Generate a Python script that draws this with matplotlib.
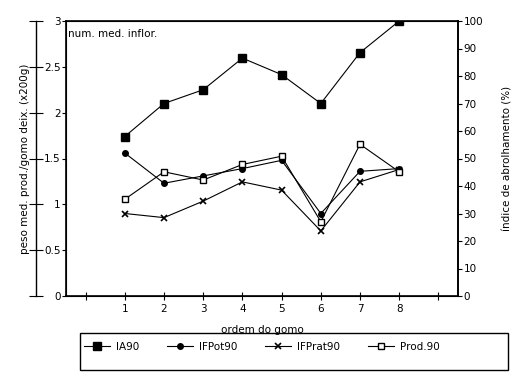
import matplotlib.pyplot as plt
from matplotlib.patches import Rectangle

# gomo order (category positions 1..8); 0 and 9 are blank ticks
ordem = [1, 2, 3, 4, 5, 6, 7, 8]
xticks = list(range(0, 10))
xticklabels = [''] + [str(o) for o in ordem] + ['']

# right axis (%)
ia90 = [58, 70, 75, 86.5, 80.5, 70, 88.5, 100]
# left axis (x200g)
ifpot90 = [1.56, 1.23, 1.31, 1.39, 1.48, 0.90, 1.36, 1.39]
ifprat90 = [0.90, 0.855, 1.035, 1.245, 1.155, 0.71, 1.245, 1.38]
prod90 = [1.055, 1.355, 1.265, 1.435, 1.525, 0.81, 1.655, 1.355]

left_ticks = [0, 0.5, 1, 1.5, 2, 2.5, 3]
left_ticklabels = ['0', '0.5', '1', '1.5', '2', '2.5', '3']
right_ticks = list(range(0, 101, 10))

plt.rcParams['font.family'] = ['DejaVu Sans']
fs = 7.5

fig = plt.figure(figsize=(5.13, 3.85), dpi=100)
pos = [66 / 513, 1 - 296 / 385, (458 - 66) / 513, (296 - 21) / 385]
ax = fig.add_axes(pos)
ax2 = ax.twinx()

lw = 0.8
h1, = ax2.plot(ordem, ia90, '-s', color='black', lw=lw, ms=5.5, label='IA90')
h2, = ax.plot(ordem, ifpot90, '-o', color='black', lw=lw, ms=4, label='IFPot90')
h3, = ax.plot(ordem, ifprat90, '-x', color='black', lw=lw, ms=5, mew=1.2, label='IFPrat90')
h4, = ax.plot(ordem, prod90, '-s', color='black', lw=lw, ms=5, mfc='white', label='Prod.90')

ax.set_xlim(-0.5, 9.5)
ax.set_ylim(0, 3)
ax2.set_ylim(0, 100)
ax.set_xticks(xticks)
ax.set_xticklabels(xticklabels, fontsize=fs)
ax.set_yticks(left_ticks)
ax.set_yticklabels(left_ticklabels, fontsize=fs)
ax2.set_yticks(right_ticks)
ax2.set_yticklabels([str(v) for v in right_ticks], fontsize=fs)
ax.tick_params(axis='x', direction='inout', length=6, width=0.8, pad=3)
ax.tick_params(axis='y', direction='out', length=3, width=0.8, pad=1)
ax2.tick_params(axis='y', direction='out', length=3, width=0.8, pad=1)
for sp in ax.spines.values():
    sp.set_linewidth(1.2)
ax2.spines['right'].set_linewidth(1.2)

ax.set_xlabel('ordem do gomo', fontsize=fs, labelpad=8)
ax2.set_ylabel('índice de abrolhamento (%)', fontsize=fs, labelpad=14)
ax.text(0.005, 0.97, 'num. med. inflor.', transform=ax.transAxes,
        fontsize=fs, va='top', ha='left')

# outer left axis line with crossing ticks
axo = fig.add_axes(pos, sharey=ax)
axo.patch.set_visible(False)
for k in ['top', 'right', 'bottom']:
    axo.spines[k].set_visible(False)
axo.spines['left'].set_position(('outward', 21.6))
axo.spines['left'].set_linewidth(1.0)
axo.set_xticks([])
axo.tick_params(axis='y', direction='inout', length=10, width=0.8, labelleft=False)
axo.set_ylabel('peso med. prod./gomo deix. (x200g)', fontsize=fs, labelpad=-1)

# legend box
fig.patches.append(Rectangle((80 / 513, 1 - 370 / 385), 428 / 513, 37 / 385,
                             transform=fig.transFigure, fill=False,
                             edgecolor='black', lw=1.0))
fig.legend([h1, h2, h3, h4], ['IA90', 'IFPot90', 'IFPrat90', 'Prod.90'],
           loc='center', mode='expand',
           bbox_to_anchor=(84 / 513, 1 - 357 / 385, 356 / 513, 20 / 385),
           ncol=4, frameon=False, fontsize=fs, handlelength=2.5,
           handletextpad=0.6, borderpad=0, borderaxespad=0)

fig.savefig('out.png', dpi=100)
